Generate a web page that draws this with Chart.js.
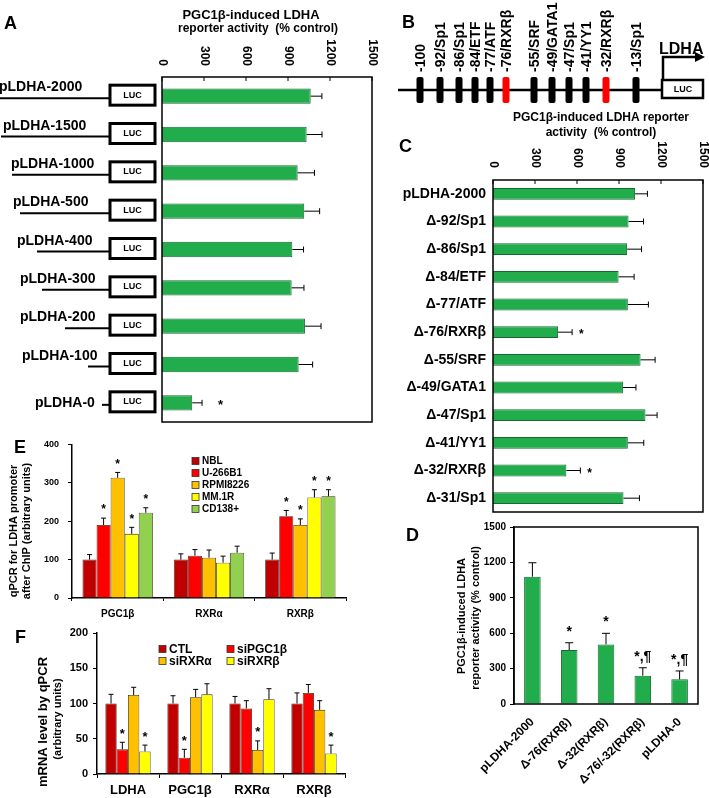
<!DOCTYPE html>
<html lang="en">
<head>
<meta charset="UTF-8" />
<title>PGC1β-induced LDHA reporter activity</title>
<style>
    html, body { margin: 0; padding: 0; background: #fff; }
    #page { position: relative; width: 709px; height: 798px; overflow: hidden; background: #fff; }
    .panel { position: absolute; }
    #deco { position: absolute; left: 0; top: 0; }
</style>
<script src="https://cdn.jsdelivr.net/npm/chart.js@4.4.1/dist/chart.umd.min.js"></script>
</head>
<body>
<div id="page">
    <canvas id="deco" width="709" height="798"></canvas>
    <div class="panel" style="left:0;top:0;width:380px;height:430px"><canvas id="chartA"></canvas></div>
    <div class="panel" style="left:380px;top:100px;width:329px;height:432px"><canvas id="chartC"></canvas></div>
    <div class="panel" style="left:400px;top:515px;width:309px;height:283px"><canvas id="chartD"></canvas></div>
    <div class="panel" style="left:0;top:430px;width:360px;height:195px"><canvas id="chartE"></canvas></div>
    <div class="panel" style="left:0;top:620px;width:360px;height:178px"><canvas id="chartF"></canvas></div>
</div>
<script>
// ---- data ----
const ACT_TICKS = [0, 300, 600, 900, 1200, 1500];

const A_LABELS = ['pLDHA-2000', 'pLDHA-1500', 'pLDHA-1000', 'pLDHA-500', 'pLDHA-400',
                  'pLDHA-300', 'pLDHA-200', 'pLDHA-100', 'pLDHA-0'];
const A_VALUES = [1062, 1033, 969, 1016, 931, 926, 1021, 976, 216];
const A_ERRORS = [80, 110, 120, 110, 80, 88, 115, 100, 70];
const A_MARKS  = ['', '', '', '', '', '', '', '', '*'];

const C_LABELS = ['pLDHA-2000', 'Δ-92/Sp1', 'Δ-86/Sp1', 'Δ-84/ETF', 'Δ-77/ATF', 'Δ-76/RXRβ',
                  'Δ-55/SRF', 'Δ-49/GATA1', 'Δ-47/Sp1', 'Δ-41/YY1', 'Δ-32/RXRβ', 'Δ-31/Sp1'];
const C_VALUES = [1015, 968, 958, 897, 963, 465, 1054, 928, 1089, 963, 524, 932];
const C_ERRORS = [88, 107, 103, 111, 147, 100, 104, 93, 83, 114, 100, 114];
const C_MARKS  = ['', '', '', '', '', '*', '', '', '', '', '*', ''];

const D_LABELS = ['pLDHA-2000', 'Δ-76(RXRβ)', 'Δ-32(RXRβ)', 'Δ-76/-32(RXRβ)', 'pLDHA-0'];
const D_VALUES = [1079, 457, 505, 240, 209];
const D_ERRORS = [118, 62, 94, 67, 71];
const D_MARKS  = ['', '*', '*', '*,¶', '*,¶'];

const E_GROUPS = ['PGC1β', 'RXRα', 'RXRβ'];
const E_TICKS = [0, 100, 200, 300, 400];
const E_NBL   = [100, 100, 100];
const E_U266  = [190, 110, 213];
const E_RPMI  = [313, 105, 190];
const E_MM1R  = [167, 92, 262];
const E_CD138 = [222, 118, 265];
const E_NBL_ERR   = [13, 15, 17];
const E_U266_ERR  = [18, 16, 15];
const E_RPMI_ERR  = [14, 20, 16];
const E_MM1R_ERR  = [17, 17, 20];
const E_CD138_ERR = [13, 17, 17];
const E_SIG = ['*', '', '*'];

const F_GROUPS = ['LDHA', 'PGC1β', 'RXRα', 'RXRβ'];
const F_TICKS = [0, 50, 100, 150, 200];
const F_CTL     = [100, 100, 100, 100];
const F_SIPGC   = [35, 23, 93, 115];
const F_SIRXRA  = [112, 109, 34, 91];
const F_SIRXRB  = [32, 113, 106, 29];
const F_CTL_ERR    = [13, 11, 10, 15];
const F_SIPGC_ERR  = [10, 12, 11, 12];
const F_SIRXRA_ERR = [11, 11, 13, 13];
const F_SIRXRB_ERR = [9, 15, 15, 12];
const F_SIPGC_SIG  = ['*', '*', '', ''];
const F_SIRXRA_SIG = ['', '', '*', ''];
const F_SIRXRB_SIG = ['*', '', '', '*'];

const B_SITES = ['-100', '-92/Sp1', '-86/Sp1', '-84/ETF', '-77/ATF', '-76/RXRβ',
                 '-55/SRF', '-49/GATA1', '-47/Sp1', '-41/YY1', '-32/RXRβ', '-13/Sp1'];

// ---- layout / style ----
const FONT = "'Liberation Sans', Arial, sans-serif";
const bold = s => `bold ${s}px ${FONT}`;
const GREEN = '#22ad4d';
const GREEN_EDGE = '#176b30';
const A_LINE_X = [0, 1, 12, 20, 37, 42, 65, 88, 102];
const A_TEXT_X = [-1, 3, 11, 13, 17, 20, 20, 22, 35];
const B_SITE_X = [420, 440, 459, 475, 490, 506, 534, 552, 569, 586, 606, 636];

Chart.defaults.font.family = FONT;
Chart.defaults.color = '#000';
Chart.defaults.animation = false;
Chart.defaults.responsive = true;
Chart.defaults.maintainAspectRatio = false;
Chart.defaults.plugins.legend.display = false;
Chart.defaults.plugins.tooltip.enabled = false;

const fixedTicks = arr => s => { s.ticks = arr.map(v => ({ value: v })); };
const plain = v => String(v);

// error bars + significance marks
const errorBars = {
    id: 'errorBars',
    afterDatasetsDraw(chart, args, o) {
        const ctx = chart.ctx;
        const horiz = chart.options.indexAxis === 'y';
        const vs = horiz ? chart.scales.x : chart.scales.y;
        chart.data.datasets.forEach((ds, di) => {
            chart.getDatasetMeta(di).data.forEach((bar, i) => {
                const end = vs.getPixelForValue(ds.data[i] + ds.errors[i]);
                ctx.save();
                ctx.strokeStyle = '#000';
                ctx.lineWidth = 1;
                ctx.beginPath();
                if (horiz) {
                    ctx.moveTo(bar.x, bar.y); ctx.lineTo(end, bar.y);
                    ctx.moveTo(end, bar.y - o.cap / 2); ctx.lineTo(end, bar.y + o.cap / 2);
                } else {
                    ctx.moveTo(bar.x, bar.y); ctx.lineTo(bar.x, end);
                    ctx.moveTo(bar.x - o.cap / 2, end); ctx.lineTo(bar.x + o.cap / 2, end);
                }
                ctx.stroke();
                const m = ds.marks && ds.marks[i];
                if (m) {
                    ctx.fillStyle = '#000';
                    ctx.font = o.markFont;
                    ctx.textBaseline = 'middle';
                    if (horiz) {
                        ctx.textAlign = 'left';
                        ctx.fillText(m, end + o.gap, bar.y + 3);
                    } else {
                        ctx.textAlign = 'center';
                        ctx.fillText(m, bar.x, end - o.gap);
                    }
                }
                ctx.restore();
            });
        });
    }
};

// boxed plot with inward top ticks and rotated labels (panels A, C)
const topAxis = {
    id: 'topAxis',
    afterDraw(chart, args, o) {
        const { ctx, chartArea: a } = chart;
        const x = chart.scales.x;
        ctx.save();
        ctx.strokeStyle = '#000';
        ctx.lineWidth = 1.5;
        ctx.strokeRect(a.left, a.top, a.right - a.left, a.bottom - a.top);
        ctx.lineWidth = 1;
        ctx.fillStyle = '#000';
        ctx.font = o.font;
        x.ticks.forEach(t => {
            const px = x.getPixelForValue(t.value);
            ctx.beginPath(); ctx.moveTo(px, a.top); ctx.lineTo(px, a.top + 4); ctx.stroke();
            ctx.save();
            ctx.translate(px, a.top - o.gap);
            ctx.rotate(Math.PI / 2);
            ctx.textAlign = 'right';
            ctx.textBaseline = 'middle';
            ctx.fillText(String(t.value), 0, 0);
            ctx.restore();
        });
        ctx.restore();
    }
};

const frame = {
    id: 'frame',
    afterDraw(chart) {
        const { ctx, chartArea: a } = chart;
        ctx.save();
        ctx.strokeStyle = '#000';
        ctx.lineWidth = 1.5;
        ctx.strokeRect(a.left, a.top, a.right - a.left, a.bottom - a.top);
        ctx.restore();
    }
};

// LUC constructs drawn beside panel A rows
const constructs = {
    id: 'constructs',
    afterDraw(chart) {
        const ctx = chart.ctx;
        const y = chart.scales.y;
        const boxL = 110, boxW = 45, boxH = 20;
        ctx.save();
        A_LABELS.forEach((lab, i) => {
            const cy = y.getPixelForValue(i);
            const last = i === A_LABELS.length - 1;
            ctx.strokeStyle = '#000';
            ctx.lineWidth = 2;
            ctx.beginPath();
            ctx.moveTo(A_LINE_X[i], cy + 2); ctx.lineTo(boxL, cy + 2);
            ctx.stroke();
            ctx.fillStyle = '#fff';
            ctx.fillRect(boxL, cy - 11, boxW, boxH);
            ctx.lineWidth = 3;
            ctx.strokeRect(boxL, cy - 11, boxW, boxH);
            ctx.fillStyle = '#000';
            ctx.font = bold(9);
            ctx.textAlign = 'center';
            ctx.textBaseline = 'middle';
            ctx.fillText('LUC', boxL + boxW / 2, cy - 1);
            ctx.font = bold(14);
            ctx.textAlign = 'left';
            ctx.textBaseline = 'alphabetic';
            ctx.fillText(lab, A_TEXT_X[i], last ? cy + 4 : cy - 5);
        });
        ctx.restore();
    }
};

// square-swatch legend
const boxLegend = {
    id: 'boxLegend',
    afterDraw(chart, args, o) {
        const ctx = chart.ctx;
        ctx.save();
        chart.data.datasets.forEach((ds, i) => {
            const col = i % o.cols, row = Math.floor(i / o.cols);
            const x = o.x + col * o.dx, y = o.y + row * o.dy;
            ctx.fillStyle = ds.backgroundColor;
            ctx.fillRect(x, y - o.size / 2, o.size, o.size);
            ctx.strokeStyle = '#333';
            ctx.lineWidth = 0.8;
            ctx.strokeRect(x, y - o.size / 2, o.size, o.size);
            ctx.fillStyle = '#000';
            ctx.font = o.font;
            ctx.textAlign = 'left';
            ctx.textBaseline = 'middle';
            ctx.fillText(ds.label, x + o.size + 3, y + 0.5);
        });
        ctx.restore();
    }
};

// ---- panel A ----
new Chart(document.getElementById('chartA'), {
    type: 'bar',
    data: {
        labels: A_LABELS,
        datasets: [{ data: A_VALUES, errors: A_ERRORS, marks: A_MARKS,
            backgroundColor: GREEN, borderColor: GREEN_EDGE, borderWidth: 1,
            barPercentage: 0.4, categoryPercentage: 1 }]
    },
    options: {
        indexAxis: 'y',
        layout: { padding: { left: 162, top: 77, right: 8, bottom: 8 } },
        plugins: {
            errorBars: { cap: 6, gap: 16, markFont: bold(13) },
            topAxis: { font: bold(12), gap: 11 }
        },
        scales: {
            x: { display: false, position: 'top', min: 0, max: 1500, afterBuildTicks: fixedTicks(ACT_TICKS) },
            y: { display: false }
        }
    },
    plugins: [errorBars, topAxis, constructs]
});

// ---- panel C ----
new Chart(document.getElementById('chartC'), {
    type: 'bar',
    data: {
        labels: C_LABELS,
        datasets: [{ data: C_VALUES, errors: C_ERRORS, marks: C_MARKS,
            backgroundColor: GREEN, borderColor: GREEN_EDGE, borderWidth: 1,
            barPercentage: 0.43, categoryPercentage: 1 }]
    },
    options: {
        indexAxis: 'y',
        layout: { padding: { left: 0, top: 80, right: 6, bottom: 20 } },
        plugins: {
            errorBars: { cap: 6, gap: 7, markFont: bold(12) },
            topAxis: { font: bold(12), gap: 12 }
        },
        scales: {
            x: { display: false, position: 'top', min: 0, max: 1500, afterBuildTicks: fixedTicks(ACT_TICKS) },
            y: {
                grid: { display: false, drawTicks: false },
                border: { display: false },
                ticks: { font: { size: 14, weight: 'bold' }, padding: 7, color: '#000' },
                afterFit: s => { s.width = 113; }
            }
        }
    },
    plugins: [errorBars, topAxis]
});

// ---- panel D ----
new Chart(document.getElementById('chartD'), {
    type: 'bar',
    data: {
        labels: D_LABELS,
        datasets: [{ data: D_VALUES, errors: D_ERRORS, marks: D_MARKS,
            backgroundColor: GREEN, borderColor: GREEN_EDGE, borderWidth: 1,
            barPercentage: 0.45, categoryPercentage: 1 }]
    },
    options: {
        layout: { padding: { left: 0, top: 12, right: 11, bottom: 0 } },
        plugins: { errorBars: { cap: 8, gap: 11, markFont: bold(14) } },
        scales: {
            x: {
                grid: { display: false, drawTicks: false },
                border: { display: false },
                ticks: { font: { size: 12, weight: 'bold' }, minRotation: 45, maxRotation: 45, padding: 11 },
                afterFit: s => { s.height = 94; }
            },
            y: {
                min: 0, max: 1500,
                afterBuildTicks: fixedTicks(ACT_TICKS),
                grid: { drawOnChartArea: false, tickLength: 4, color: '#000' },
                border: { color: '#000', width: 1.5 },
                ticks: { font: { size: 10, weight: 'bold' }, padding: 4, callback: plain },
                afterFit: s => { s.width = 114; }
            }
        }
    },
    plugins: [errorBars, frame]
});

// ---- panel E ----
const eSet = (label, data, errors, color, marks) => ({
    label, data, errors, marks, backgroundColor: color, borderColor: '#3a2a1a', borderWidth: 0.8,
    barPercentage: 1, categoryPercentage: 0.77
});
new Chart(document.getElementById('chartE'), {
    type: 'bar',
    data: {
        labels: E_GROUPS,
        datasets: [
            eSet('NBL', E_NBL, E_NBL_ERR, '#c00000', null),
            eSet('U-266B1', E_U266, E_U266_ERR, '#ff0000', E_SIG),
            eSet('RPMI8226', E_RPMI, E_RPMI_ERR, '#ffc000', E_SIG),
            eSet('MM.1R', E_MM1R, E_MM1R_ERR, '#ffff00', E_SIG),
            eSet('CD138+', E_CD138, E_CD138_ERR, '#92d050', E_SIG)
        ]
    },
    options: {
        layout: { padding: { left: 0, top: 12, right: 14, bottom: 0 } },
        plugins: {
            errorBars: { cap: 5, gap: 8, markFont: bold(12) },
            boxLegend: { x: 192, y: 31, dx: 0, dy: 12, cols: 1, size: 7, font: bold(10) }
        },
        scales: {
            x: {
                grid: { drawOnChartArea: false, tickLength: 3, color: '#000' },
                border: { color: '#000', width: 1.5 },
                ticks: { font: { size: 10, weight: 'bold' }, padding: 7 },
                afterFit: s => { s.height = 27; }
            },
            y: {
                min: 0, max: 400,
                afterBuildTicks: fixedTicks(E_TICKS),
                grid: { drawOnChartArea: false, tickLength: 4, color: '#000' },
                border: { color: '#000', width: 1.5 },
                ticks: { font: { size: 9, weight: 'bold' }, padding: 9, callback: plain },
                afterFit: s => { s.width = 72; }
            }
        }
    },
    plugins: [errorBars, boxLegend]
});

// ---- panel F ----
const fSet = (label, data, errors, color, marks) => ({
    label, data, errors, marks, backgroundColor: color, borderColor: '#3a2a1a', borderWidth: 0.8,
    barPercentage: 1, categoryPercentage: 0.73
});
new Chart(document.getElementById('chartF'), {
    type: 'bar',
    data: {
        labels: F_GROUPS,
        datasets: [
            fSet('CTL', F_CTL, F_CTL_ERR, '#c00000', null),
            fSet('siPGC1β', F_SIPGC, F_SIPGC_ERR, '#ff0000', F_SIPGC_SIG),
            fSet('siRXRα', F_SIRXRA, F_SIRXRA_ERR, '#ffc000', F_SIRXRA_SIG),
            fSet('siRXRβ', F_SIRXRB, F_SIRXRB_ERR, '#ffff00', F_SIRXRB_SIG)
        ]
    },
    options: {
        layout: { padding: { left: 0, top: 13, right: 15, bottom: 0 } },
        plugins: {
            errorBars: { cap: 5, gap: 8, markFont: bold(13) },
            boxLegend: { x: 159, y: 29, dx: 68, dy: 12, cols: 2, size: 7, font: bold(12) }
        },
        scales: {
            x: {
                grid: { drawOnChartArea: false, tickLength: 4, color: '#000' },
                border: { color: '#000', width: 1.5 },
                ticks: { font: { size: 13, weight: 'bold' }, padding: 5 },
                afterFit: s => { s.height = 24; }
            },
            y: {
                min: 0, max: 200,
                afterBuildTicks: fixedTicks(F_TICKS),
                grid: { drawOnChartArea: false, tickLength: 4, color: '#000' },
                border: { color: '#000', width: 1.5 },
                ticks: { font: { size: 11, weight: 'bold' }, padding: 5, callback: plain },
                afterFit: s => { s.width = 97; }
            }
        }
    },
    plugins: [errorBars, boxLegend]
});

// ---- letters, titles and promoter map ----
(function drawDeco() {
    const ctx = document.getElementById('deco').getContext('2d');
    ctx.fillStyle = '#000';
    ctx.textBaseline = 'alphabetic';
    ctx.font = bold(18);
    [['A', 4, 29], ['B', 402, 28], ['C', 399, 152], ['D', 406, 541], ['E', 14, 453], ['F', 15, 643]]
        .forEach(([t, x, y]) => ctx.fillText(t, x, y));

    const text = (t, x, y, size, rot) => {
        ctx.save();
        ctx.translate(x, y);
        if (rot) ctx.rotate(rot);
        ctx.font = bold(size);
        ctx.textAlign = 'center';
        ctx.textBaseline = 'middle';
        ctx.fillText(t, 0, 0);
        ctx.restore();
    };
    text('PGC1β-induced LDHA', 251, 15, 13);
    text('reporter activity  (% control)', 258, 29, 12);
    text('PGC1β-induced LDHA reporter', 601, 118, 12);
    text('activity  (% control)', 601, 133, 12);
    text('PGC1β-induced LDHA', 462, 616, 11, -Math.PI / 2);
    text('reporter activity (% control)', 476, 618, 11, -Math.PI / 2);
    text('qPCR for LDHA promoter', 14, 531, 11, -Math.PI / 2);
    text('after ChIP (arbitrary units)', 27, 531, 11, -Math.PI / 2);
    text('mRNA level by qPCR', 43, 722, 13, -Math.PI / 2);
    text('(arbitrary units)', 58, 719, 11, -Math.PI / 2);

    // promoter line
    ctx.strokeStyle = '#000';
    ctx.lineWidth = 2.5;
    ctx.beginPath(); ctx.moveTo(398, 90); ctx.lineTo(662, 90); ctx.stroke();
    B_SITES.forEach((s, i) => {
        const x = B_SITE_X[i];
        ctx.fillStyle = s.includes('RXR') ? '#ff0000' : '#000';
        ctx.beginPath();
        ctx.roundRect(x - 3.5, 77, 7, 26, 2);
        ctx.fill();
        ctx.fillStyle = '#000';
        ctx.save();
        ctx.translate(x + 1, 72);
        ctx.rotate(-Math.PI / 2);
        ctx.font = bold(14);
        ctx.textAlign = 'left';
        ctx.textBaseline = 'middle';
        ctx.fillText(s, 0, 0);
        ctx.restore();
    });
    // LUC box and transcription arrow
    ctx.lineWidth = 2.5;
    ctx.strokeRect(662, 80, 41, 18);
    ctx.font = bold(9);
    ctx.textAlign = 'center';
    ctx.textBaseline = 'middle';
    ctx.fillText('LUC', 683, 89.5);
    ctx.beginPath(); ctx.moveTo(663, 80); ctx.lineTo(663, 57); ctx.lineTo(697, 57); ctx.stroke();
    ctx.beginPath(); ctx.moveTo(705, 57); ctx.lineTo(695, 52); ctx.lineTo(695, 62); ctx.closePath(); ctx.fill();
    ctx.font = bold(16);
    ctx.textAlign = 'left';
    ctx.textBaseline = 'alphabetic';
    ctx.fillText('LDHA', 659, 54);
})();
</script>
</body>
</html>
